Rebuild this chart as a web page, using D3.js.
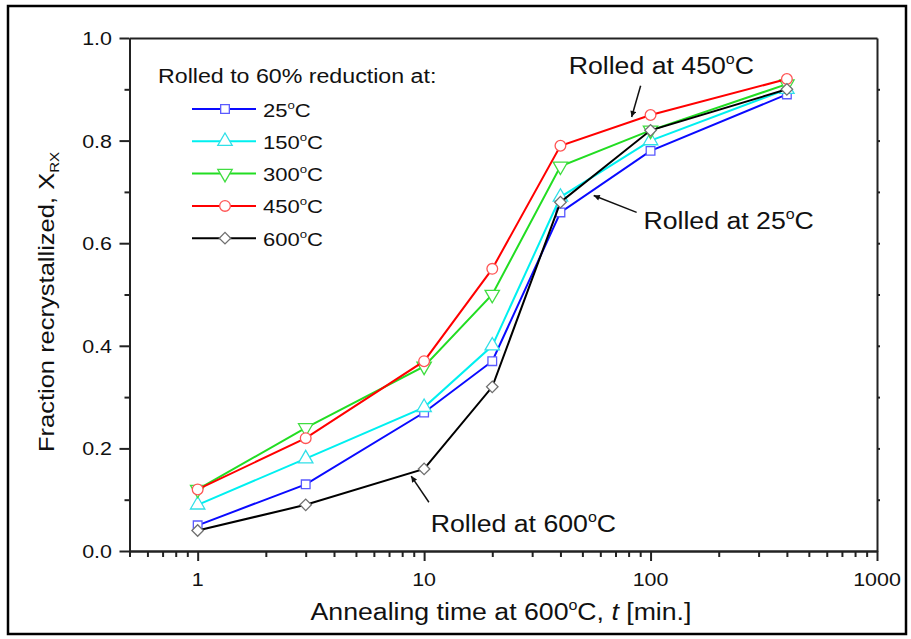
<!DOCTYPE html>
<html>
<head>
<meta charset="utf-8">
<script src="https://cdn.jsdelivr.net/npm/d3@7"></script>
<style>
  body { margin: 0; background: #fff; }
  text { font-family: "Liberation Sans", Arial, sans-serif; fill: #111; }
</style>
</head>
<body>
<div id="chart"></div>
<script>
// Annealing times (min) and fraction recrystallized for each rolling temperature
const times = [1, 3, 10, 20, 40, 100, 400];
const rolled25 = [0.05, 0.13, 0.27, 0.37, 0.66, 0.78, 0.89];
const rolled150 = [0.09, 0.18, 0.28, 0.40, 0.69, 0.80, 0.90];
const rolled300 = [0.12, 0.24, 0.36, 0.50, 0.75, 0.82, 0.91];
const rolled450 = [0.12, 0.22, 0.37, 0.55, 0.79, 0.85, 0.92];
const rolled600 = [0.04, 0.09, 0.16, 0.32, 0.68, 0.82, 0.90];
const seriesNames = ["25°C", "150°C", "300°C", "450°C", "600°C"];

const xTicks = [1, 10, 100, 1000];
const yTicks = [0.0, 0.2, 0.4, 0.6, 0.8, 1.0];

const width = 911, height = 639;
const SX = 1.16; // the source text is a bit wider than normal

let svg = d3.select("#chart").append("svg")
  .attr("width", width)
  .attr("height", height);

// outer frame
svg.append("rect")
  .attr("x", 8).attr("y", 6)
  .attr("width", 898).attr("height", 628)
  .attr("fill", "none").attr("stroke", "#000").attr("stroke-width", 2.5);

let x = d3.scaleLog().domain([0.5, 1000]).range([129.5, 877]);
let y = d3.scaleLinear().domain([0, 1]).range([551, 38]);

// text helper: handles the raised "o" for degrees and stretches horizontally
function addText(parent, px, py, str, size, anchor, rot) {
  let g = parent.append("g")
    .attr("transform", `translate(${px},${py}) rotate(${rot || 0}) scale(${SX},1)`);
  let t = g.append("text").attr("text-anchor", anchor || "start").attr("font-size", size);
  let parts = str.split("°");
  t.append("tspan").text(parts[0]);
  if (parts.length > 1) {
    t.append("tspan").text("o").attr("font-size", size * 0.6).attr("dy", -size * 0.42);
    t.append("tspan").text(parts[1]).attr("dy", size * 0.42);
  }
  return t;
}

// axes (lines only, labels drawn separately)
function styleAxis(g) {
  g.selectAll("path, line").attr("stroke", "#222").attr("stroke-width", 2);
  g.selectAll("text").remove();
}

// minor ticks of the log axis: 0.5..0.9, 2..9, 20..90, 200..900
let minorX = [];
[0.1, 1, 10, 100].forEach(function(decade) {
  for (let k = 2; k <= 9; k++) {
    let v = +(decade * k).toFixed(3);
    if (v >= 0.5) minorX.push(v);
  }
});

svg.append("g")
  .attr("transform", `translate(0,${y(0)})`)
  .call(d3.axisBottom(x).tickValues(minorX).tickSize(6).tickSizeOuter(0).tickFormat(""))
  .call(styleAxis);
svg.append("g")
  .attr("transform", `translate(0,${y(0)})`)
  .call(d3.axisBottom(x).tickValues(xTicks).tickSize(10).tickSizeOuter(0).tickFormat(""))
  .call(styleAxis);
svg.append("g")
  .attr("transform", `translate(${x(0.5)},0)`)
  .call(d3.axisLeft(y).tickValues([0.1, 0.3, 0.5, 0.7, 0.9]).tickSize(5).tickSizeOuter(0).tickFormat(""))
  .call(styleAxis);
svg.append("g")
  .attr("transform", `translate(${x(0.5)},0)`)
  .call(d3.axisLeft(y).tickValues(yTicks).tickSize(10).tickSizeOuter(0).tickFormat(""))
  .call(styleAxis);
svg.append("g")
  .attr("transform", `translate(${x(1000)},0)`)
  .call(d3.axisRight(y).tickValues(d3.range(0.1, 1.0, 0.1)).tickSize(3).tickSizeOuter(0).tickFormat(""))
  .call(styleAxis);
svg.append("g")
  .attr("transform", `translate(0,${y(1)})`)
  .call(d3.axisTop(x).tickValues([]).tickSizeOuter(0))
  .call(styleAxis);

// tick labels
xTicks.forEach(function(v) {
  addText(svg, x(v), 586, String(v), 18.5, "middle");
});
yTicks.forEach(function(v) {
  addText(svg, 112, y(v) + 7, v.toFixed(1), 18.5, "end");
});

// axis titles
let xTitle = addText(svg, 501, 620, "Annealing time at 600°C, ", 23, "middle");
xTitle.append("tspan").text("t").attr("font-style", "italic");
xTitle.append("tspan").text(" [min.]");

let yTitle = addText(svg, 54, 302, "Fraction recrystallized, X", 22, "middle", -90);
yTitle.append("tspan").text("RX").attr("font-size", 13).attr("dy", 5);

// series
const series = [
  { name: seriesNames[0], values: rolled25, line: "#0a0aff", mark: "#5a5aff", shape: d3.symbolSquare, size: 75, rot: 0 },
  { name: seriesNames[1], values: rolled150, line: "#00f0f0", mark: "#30e0e8", shape: d3.symbolTriangle, size: 90, rot: 0 },
  { name: seriesNames[2], values: rolled300, line: "#22dd22", mark: "#40dd40", shape: d3.symbolTriangle, size: 90, rot: 180 },
  { name: seriesNames[3], values: rolled450, line: "#ff0000", mark: "#ff5555", shape: d3.symbolCircle, size: 90, rot: 0 },
  { name: seriesNames[4], values: rolled600, line: "#000000", mark: "#707070", shape: d3.symbolSquare, size: 66, rot: 45 }
];

let line = d3.line()
  .x(function(d) { return x(d[0]); })
  .y(function(d) { return y(d[1]); });

series.forEach(function(s) {
  let pts = times.map(function(t, i) { return [t, s.values[i]]; });
  svg.append("path")
    .datum(pts)
    .attr("d", line)
    .attr("fill", "none")
    .attr("stroke", s.line)
    .attr("stroke-width", 2);
  svg.selectAll(null)
    .data(pts)
    .enter()
    .append("path")
    .attr("d", d3.symbol().type(s.shape).size(s.size))
    .attr("transform", function(d) { return `translate(${x(d[0])},${y(d[1])}) rotate(${s.rot})`; })
    .attr("fill", "#fff")
    .attr("stroke", s.mark)
    .attr("stroke-width", 1.3);
});

// legend
addText(svg, 158, 83, "Rolled to 60% reduction at:", 20, "start");
series.forEach(function(s, i) {
  let cy = 109 + i * 32.3;
  svg.append("line")
    .attr("x1", 192).attr("x2", 256)
    .attr("y1", cy).attr("y2", cy)
    .attr("stroke", s.line).attr("stroke-width", 2);
  svg.append("path")
    .attr("d", d3.symbol().type(s.shape).size(s.size))
    .attr("transform", `translate(225,${cy}) rotate(${s.rot})`)
    .attr("fill", "#fff")
    .attr("stroke", s.mark)
    .attr("stroke-width", 1.3);
  addText(svg, 263, cy + 7.5, s.name, 19, "start");
});

// annotations with arrows (data coordinates)
svg.append("defs").append("marker")
  .attr("id", "arrow")
  .attr("viewBox", "0 0 10 10")
  .attr("refX", 10).attr("refY", 5)
  .attr("markerWidth", 9).attr("markerHeight", 6)
  .attr("markerUnits", "userSpaceOnUse")
  .attr("orient", "auto")
  .append("path")
  .attr("d", "M0,0 L10,5 L0,10 z")
  .attr("fill", "#111");

const notes = [
  { text: "Rolled at 450°C", tx: 43.5, ty: 0.93, from: [90.4, 0.907], to: [82.5, 0.846] },
  { text: "Rolled at 25°C", tx: 93, ty: 0.628, from: [86.8, 0.66], to: [56.1, 0.693] },
  { text: "Rolled at 600°C", tx: 10.7, ty: 0.037, from: [10.5, 0.095], to: [8.77, 0.146] }
];
notes.forEach(function(n) {
  svg.append("line")
    .attr("x1", x(n.from[0])).attr("y1", y(n.from[1]))
    .attr("x2", x(n.to[0])).attr("y2", y(n.to[1]))
    .attr("stroke", "#111").attr("stroke-width", 1.5)
    .attr("marker-end", "url(#arrow)");
  addText(svg, x(n.tx), y(n.ty), n.text, 23, "start");
});
</script>
</body>
</html>
